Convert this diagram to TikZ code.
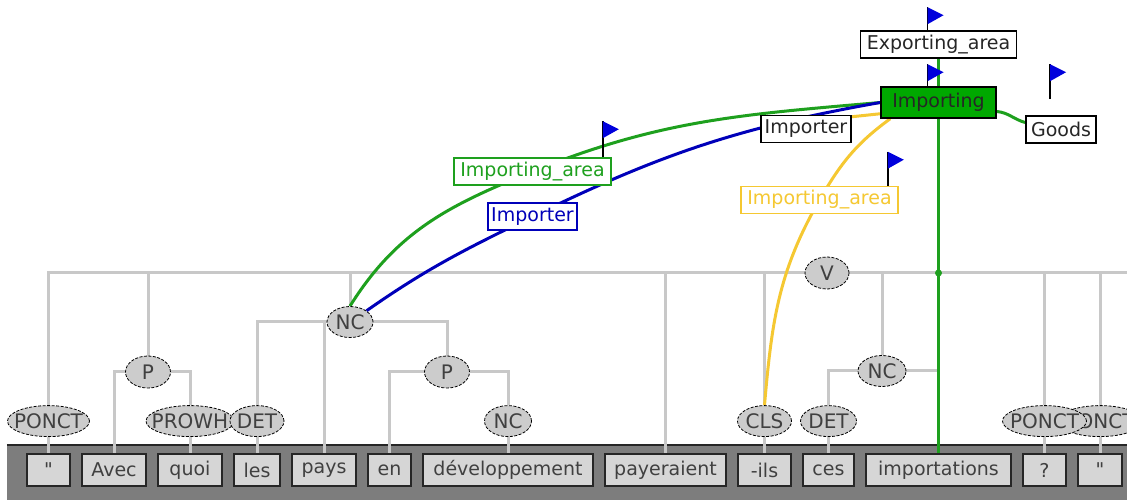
\documentclass[tikz,border=0pt]{standalone}
\usepackage{fontspec}
\setmainfont{DejaVu Sans}[Ligatures=TeXOff]
\usepackage{tikz}
\usetikzlibrary{positioning,shapes.geometric,backgrounds}

\definecolor{treegray}{RGB}{200,200,200}
\definecolor{stripgray}{RGB}{125,125,125}
\definecolor{boxgray}{RGB}{214,214,214}
\definecolor{taggray}{RGB}{204,204,204}
\definecolor{fegreen}{RGB}{30,160,30}
\definecolor{feblue}{RGB}{0,0,185}
\definecolor{feyellow}{RGB}{245,200,50}
\definecolor{flagblue}{RGB}{0,0,220}
\definecolor{framegreen}{RGB}{0,168,0}

% flag on a pole: foot of the pole, length of the pole
\newcommand{\pennant}[2]{%
  \draw[pole] (#1) -- ++(0,-#2) coordinate (tip);
  \fill[flagblue] (tip) -- ++(16,8) -- ++(-16,9) -- cycle;}

\begin{document}
\begin{tikzpicture}[
    x=1pt, y=-1pt,
    node distance=17pt and 12pt,
    font=\fontsize{19}{22}\selectfont,
    word/.style={rectangle, draw=black!85, line width=1.5pt, fill=boxgray, text=black!75, minimum height=32pt, inner xsep=3pt, inner ysep=0pt, outer sep=0pt},
    tag/.style={ellipse, draw=black, dash pattern=on 3pt off 1.5pt, line width=0.8pt, fill=taggray, text=black!75, inner sep=-10pt, minimum height=31pt, font=\fontsize{20}{22}\selectfont},
    strip/.style={rectangle, fill=stripgray, draw=none, inner sep=0pt},
    branch/.style={draw=treegray, line width=3pt},
    felabel/.style={rectangle, draw=black, fill=white, line width=1.5pt, text=black!85, minimum height=27pt, inner xsep=3pt, inner ysep=0pt},
    frame/.style={rectangle, draw=black, fill=framegreen, line width=1.5pt, text=black!85, minimum height=31pt, minimum width=115pt, inner sep=0pt},
    fe/.style={line width=3pt},
    pole/.style={draw=black, line width=1.5pt}
]
    \useasboundingbox (0,0) rectangle (1127,502);

    % Words
    \node[word, minimum width=43pt] (w-quote) at (48.5,470) {"};
    \node[word, minimum width=64pt, right=of w-quote] (w-avec) {Avec};
    \node[word, minimum width=64pt, right=of w-avec] (w-quoi) {quoi};
    \node[word, minimum width=46pt, right=of w-quoi] (w-les) {les};
    \node[word, minimum width=64pt, right=of w-les] (w-pays) {pays};
    \node[word, minimum width=43pt, right=of w-pays] (w-en) {en};
    \node[word, minimum width=170pt, right=of w-en] (w-dev) {développement};
    \node[word, minimum width=121pt, right=of w-dev] (w-payeraient) {payeraient};
    \node[word, minimum width=53pt, right=of w-payeraient] (w-ils) {-ils};
    \node[word, minimum width=51pt, right=of w-ils] (w-ces) {ces};
    \node[word, minimum width=145pt, right=of w-ces] (w-importations) {importations};
    \node[word, minimum width=43pt, right=of w-importations] (w-qmark) {?};
    \node[word, minimum width=44pt, right=of w-qmark] (w-quote2) {"};

    % Tags above the words
    \node[tag, minimum width=82pt, above=of w-quote] (t-ponct1) {PONCT};
    \node[tag, minimum width=88pt, above=of w-quoi] (t-prowh) {PROWH};
    \node[tag, minimum width=54pt, above=of w-les] (t-det1) {DET};
    \node[tag, minimum width=47pt, above=of w-dev] (t-nc2) {NC};
    \node[tag, minimum width=54pt, above=of w-ils] (cls) {CLS};
    \node[tag, minimum width=56pt, above=of w-ces] (t-det2) {DET};
    \node[tag, minimum width=84pt, above=of w-quote2] (t-ponct3) {PONCT};
    \node[tag, minimum width=84pt, above=of w-qmark] (t-ponct2) {PONCT};

    % Phrase nodes
    \node[tag, minimum width=45pt, minimum height=32pt] (p1) at (148,372) {P};
    \node[tag, minimum width=46pt] (nc1) at (350,322) {NC};
    \node[tag, minimum width=45pt, minimum height=32pt] (p2) at (447,372) {P};
    \node[tag, minimum width=48pt] (nc3) at (882,371) {NC};
    \node[tag, minimum width=44pt, minimum height=32pt] (v) at (827,273) {V};

    % Frame and its elements
    \node[frame] (importing) at (938.5,102.5) {Importing};
    \node[felabel, minimum width=156pt] (expo) at (938.5,44.5) {Exporting\_area};
    \node[felabel, minimum width=90pt] (importer) at (806,129) {Importer};
    \node[felabel, minimum width=70pt] (goods) at (1061,129.5) {Goods};
    \node[felabel, minimum width=157pt, draw=fegreen, text=fegreen] (ia-green) at (532.5,171.5) {Importing\_area};
    \node[felabel, minimum width=89pt, draw=feblue, text=feblue] (ip-blue) at (532.5,216.5) {Importer};
    \node[felabel, minimum width=157pt, draw=feyellow, text=feyellow] (ia-yellow) at (819.5,200) {Importing\_area};

    \begin{scope}[on background layer]
        % Word strip
        \node[strip, minimum width=1120pt, minimum height=55pt] (strip) at (567,472.5) {};
        \draw[black!85, line width=2pt] (strip.north west) -- (strip.north east);

        % Tree lines
        \draw[branch] (v.west) -| (t-ponct1.north);
        \draw[branch] (v.west) -| (p1.north);
        \draw[branch] (v.west) -| (nc1.north);
        \draw[branch] (v.west) -| (w-payeraient.north);
        \draw[branch] (v.west) -| (cls.north);
        \draw[branch] (v.east) -| (nc3.north);
        \draw[branch] (v.east) -| (w-importations.north);
        \draw[branch] (v.east) -| (t-ponct2.north);
        \draw[branch] (v.east) -| (t-ponct3.north);
        \draw[branch] (v.east) -- (v.east -| strip.east);
        \draw[branch] (p1.west) -| (w-avec.north);
        \draw[branch] (p1.east) -| (t-prowh.north);
        \draw[branch] (nc1.west) -| (t-det1.north);
        \draw[branch] (nc1.west) -| (w-pays.north);
        \draw[branch] (nc1.east) -| (p2.north);
        \draw[branch] (p2.west) -| (w-en.north);
        \draw[branch] (p2.east) -| (t-nc2.north);
        \draw[branch] (nc3.west) -| (t-det2.north);
        \draw[branch] (nc3.east) -| (w-importations.north);
        \draw[branch] (t-ponct1) -- (w-quote);
        \draw[branch] (t-prowh) -- (w-quoi);
        \draw[branch] (t-det1) -- (w-les);
        \draw[branch] (t-nc2) -- (w-dev);
        \draw[branch] (cls) -- (w-ils);
        \draw[branch] (t-det2) -- (w-ces);
        \draw[branch] (t-ponct2) -- (w-qmark);
        \draw[branch] (t-ponct3) -- (w-quote2);

        % Arcs from the frame
        \draw[fe, fegreen] (importing.west) to[out=185, in=22] (ia-green.center) to[out=202, in=58] (nc1.north);
        \draw[fe, feblue] (importing.west) to[out=190, in=26] (ip-blue.center) to[out=206, in=35] (nc1.north east);
        \draw[fe, feyellow] ([xshift=10pt]importing.south west) to[out=216, in=60] (ia-yellow.center) to[out=240, in=85] (cls.north);
        \draw[fe, feyellow] ([yshift=5pt]importing.south west) -- ([yshift=-2pt]importer.north east);
        \draw[fe, fegreen] ([yshift=-9pt]importing.east) to[out=-5, in=165] ([yshift=7pt]goods.west);
        \draw[fe, fegreen] (expo) -- (importing);
        \draw[fe, fegreen] (importing.south) -- (importing.south |- w-importations.north);
        \fill[fegreen] (importing.south |- v.center) circle (3.5pt);
    \end{scope}

    % Flags
    \pennant{[xshift=-11pt]expo.north}{23}
    \pennant{[xshift=-11pt]importing.north}{22}
    \pennant{[xshift=-9pt]ia-green.north east}{36}
    \pennant{[xshift=-11pt]ia-yellow.north east}{34}
    \pennant{[xshift=-11pt,yshift=16pt]goods.north}{35}
\end{tikzpicture}
\end{document}
